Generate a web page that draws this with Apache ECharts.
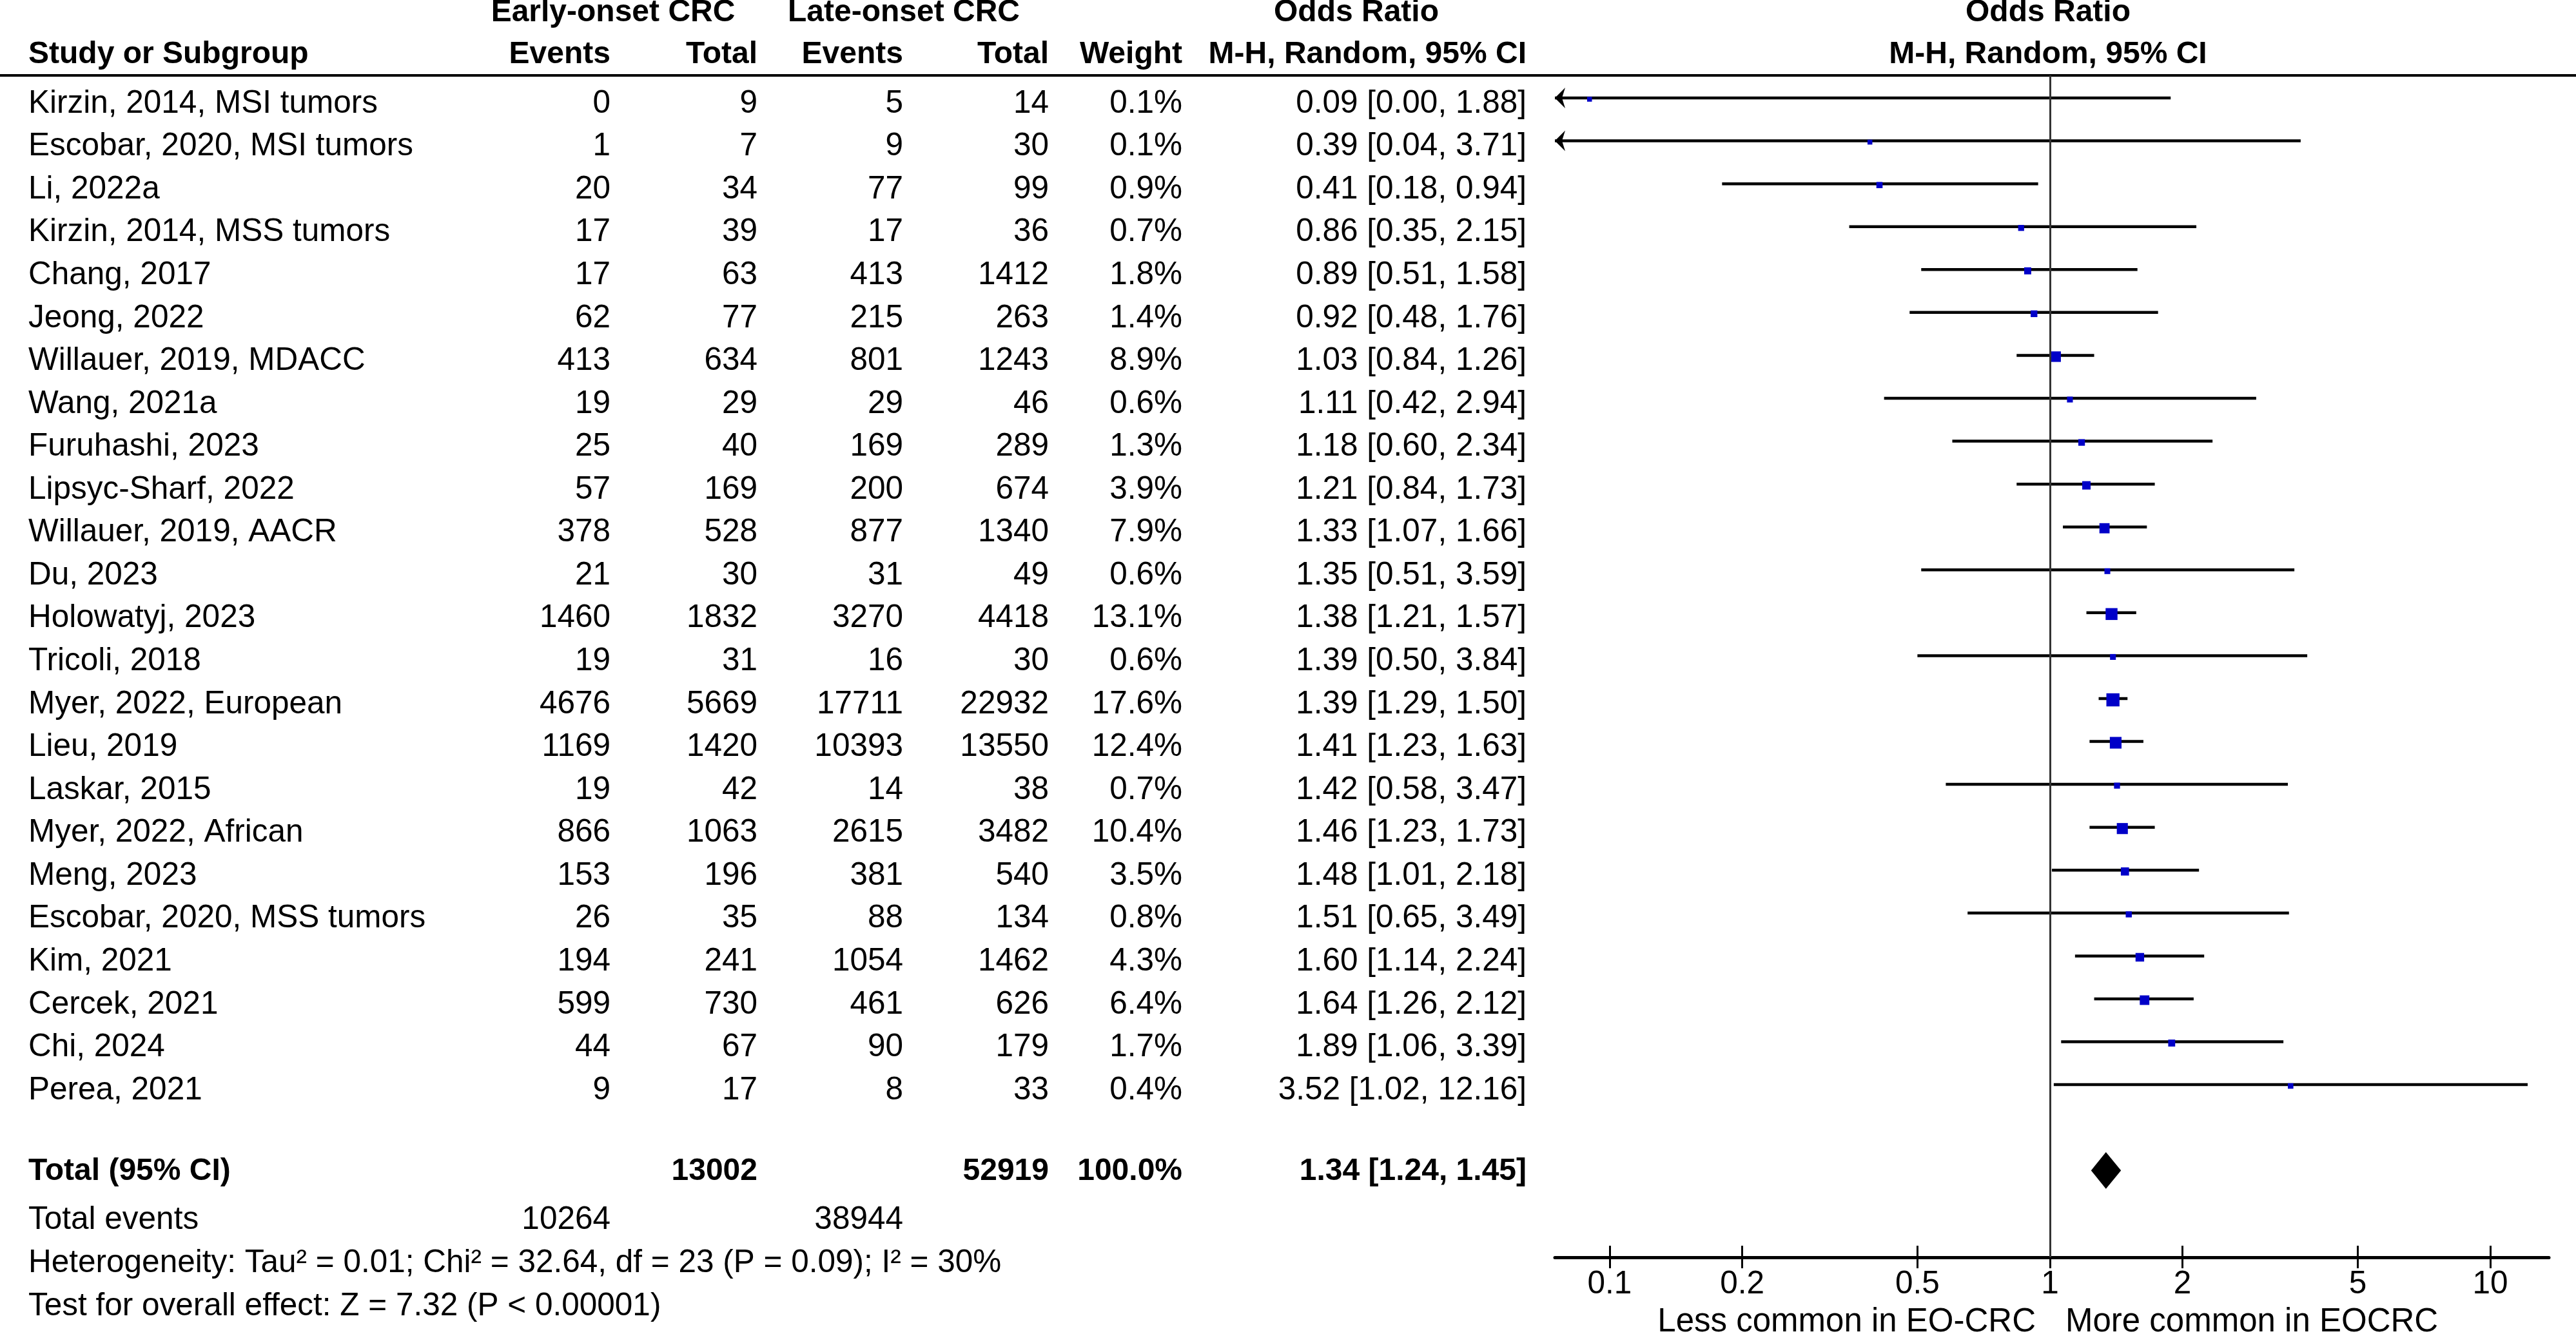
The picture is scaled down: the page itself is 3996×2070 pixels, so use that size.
<!DOCTYPE html>
<html>
<head>
<meta charset="utf-8">
<script src="https://cdn.jsdelivr.net/npm/echarts@6/dist/echarts.min.js"></script>
<style>
html, body { margin: 0; padding: 0; background: #fff; }
#chart { width: 3996px; height: 2070px; }
</style>
</head>
<body>
<div id="chart"></div>
<script>
// ---------------- DATA ----------------
const studies = [
  'Kirzin, 2014, MSI tumors', 'Escobar, 2020, MSI tumors', 'Li, 2022a', 'Kirzin, 2014, MSS tumors',
  'Chang, 2017', 'Jeong, 2022', 'Willauer, 2019, MDACC', 'Wang, 2021a', 'Furuhashi, 2023',
  'Lipsyc-Sharf, 2022', 'Willauer, 2019, AACR', 'Du, 2023', 'Holowatyj, 2023', 'Tricoli, 2018',
  'Myer, 2022, European', 'Lieu, 2019', 'Laskar, 2015', 'Myer, 2022, African', 'Meng, 2023',
  'Escobar, 2020, MSS tumors', 'Kim, 2021', 'Cercek, 2021', 'Chi, 2024', 'Perea, 2021'
];
const eoEvents = [0, 1, 20, 17, 17, 62, 413, 19, 25, 57, 378, 21, 1460, 19, 4676, 1169, 19, 866, 153, 26, 194, 599, 44, 9];
const eoTotal  = [9, 7, 34, 39, 63, 77, 634, 29, 40, 169, 528, 30, 1832, 31, 5669, 1420, 42, 1063, 196, 35, 241, 730, 67, 17];
const loEvents = [5, 9, 77, 17, 413, 215, 801, 29, 169, 200, 877, 31, 3270, 16, 17711, 10393, 14, 2615, 381, 88, 1054, 461, 90, 8];
const loTotal  = [14, 30, 99, 36, 1412, 263, 1243, 46, 289, 674, 1340, 49, 4418, 30, 22932, 13550, 38, 3482, 540, 134, 1462, 626, 179, 33];
const weights  = [0.1, 0.1, 0.9, 0.7, 1.8, 1.4, 8.9, 0.6, 1.3, 3.9, 7.9, 0.6, 13.1, 0.6, 17.6, 12.4, 0.7, 10.4, 3.5, 0.8, 4.3, 6.4, 1.7, 0.4];
const oddsRatio = [0.09, 0.39, 0.41, 0.86, 0.89, 0.92, 1.03, 1.11, 1.18, 1.21, 1.33, 1.35, 1.38, 1.39, 1.39, 1.41, 1.42, 1.46, 1.48, 1.51, 1.60, 1.64, 1.89, 3.52];
const ciLow    = [0.00, 0.04, 0.18, 0.35, 0.51, 0.48, 0.84, 0.42, 0.60, 0.84, 1.07, 0.51, 1.21, 0.50, 1.29, 1.23, 0.58, 1.23, 1.01, 0.65, 1.14, 1.26, 1.06, 1.02];
const ciHigh   = [1.88, 3.71, 0.94, 2.15, 1.58, 1.76, 1.26, 2.94, 2.34, 1.73, 1.66, 3.59, 1.57, 3.84, 1.50, 1.63, 3.47, 1.73, 2.18, 3.49, 2.24, 2.12, 3.39, 12.16];

const pooledOR = [1.34, 1.24, 1.45];          // estimate, lower, upper
const groupTotals = [13002, 52919];           // early-onset, late-onset
const groupEvents = [10264, 38944];
const totalWeight = 100.0;

const xTicks = [0.1, 0.2, 0.5, 1, 2, 5, 10];
const xTickLabels = ['0.1', '0.2', '0.5', '1', '2', '5', '10'];
const xCaptions = ['Less common in EO-CRC', 'More common in EOCRC'];

const headerGroups = ['Early-onset CRC', 'Late-onset CRC', 'Odds Ratio', 'Odds Ratio'];
const headerCols = ['Study or Subgroup', 'Events', 'Total', 'Events', 'Total', 'Weight', 'M-H, Random, 95% CI', 'M-H, Random, 95% CI'];
const footerLabels = ['Total (95% CI)', 'Total events'];
const heterogeneityText = 'Heterogeneity: Tau\u00B2 = 0.01; Chi\u00B2 = 32.64, df = 23 (P = 0.09); I\u00B2 = 30%';
const overallEffectText = 'Test for overall effect: Z = 7.32 (P < 0.00001)';

// ---------------- LAYOUT / STYLE ----------------
const FONT = '"Liberation Sans", Arial, Helvetica, sans-serif';
const LAY = {
  plotLeft: 2412, plotRight: 3954, plotTop: 117, axisY: 1951,
  row0: 152, pitch: 66.57,
  xMin: 0.07509, xMax: 13.59,
  textDy: 9,
  colName: 44, colE1: 947, colN1: 1175, colE2: 1401, colN2: 1627, colW: 1834, colCI: 2368,
  grpE: 951, grpL: 1402, grpOR: 2104,
  rowHead1: -2.118, rowHead2: -1.149,
  rowTotal: 24.89, rowEvents: 26.02, rowHet: 27.03, rowTest: 28.04, rowCaption: 28.40,
  fsReg: 49.5, fsBold: 48, fsCap: 51,
  sqBase: 6.5, sqScale: 3.3
};
const yMin = (LAY.plotTop - LAY.row0) / LAY.pitch;
const yMax = (LAY.axisY - LAY.row0) / LAY.pitch;
const xMinLog = Math.log10(LAY.xMin);
const xMaxLog = Math.log10(LAY.xMax);
const tickLogs = xTicks.map(v => Math.log10(v));

function txt(text, x, y, align, bold, size) {
  return {
    type: 'text',
    silent: true,
    style: {
      text: text, x: x, y: y, align: align, verticalAlign: 'middle',
      fill: '#000', fontFamily: FONT,
      fontWeight: bold ? 'bold' : 'normal',
      fontSize: size || (bold ? LAY.fsBold : LAY.fsReg)
    }
  };
}
function fmt2(v) { return v.toFixed(2); }

const chart = echarts.init(document.getElementById('chart'), null, { renderer: 'canvas' });

const option = {
  backgroundColor: '#fff',
  animation: false,
  grid: {
    left: LAY.plotLeft, top: LAY.plotTop,
    width: LAY.plotRight - LAY.plotLeft, height: LAY.axisY - LAY.plotTop,
    containLabel: false, outerBoundsMode: 'none'
  },
  xAxis: [
    {
      type: 'value', min: xMinLog, max: xMaxLog, position: 'bottom',
      axisLine: { show: true, onZero: false, lineStyle: { color: '#000', width: 5 } },
      axisTick: { show: true, customValues: tickLogs, length: 17, lineStyle: { color: '#000', width: 3 } },
      axisLabel: {
        show: true, customValues: tickLogs, margin: 17,
        color: '#000', fontSize: LAY.fsReg, fontFamily: FONT,
        formatter: function (v) {
          let best = 0;
          tickLogs.forEach((t, k) => { if (Math.abs(t - v) < Math.abs(tickLogs[best] - v)) best = k; });
          return xTickLabels[best];
        }
      },
      splitLine: { show: false }
    },
    {
      type: 'value', min: xMinLog, max: xMaxLog, position: 'bottom',
      axisLine: { show: false, onZero: false },
      axisTick: { show: true, inside: true, customValues: tickLogs, length: 18, lineStyle: { color: '#000', width: 3 } },
      axisLabel: { show: false },
      splitLine: { show: false }
    }
  ],
  yAxis: { type: 'value', inverse: true, min: yMin, max: yMax, show: false },
  series: [
    // confidence intervals + study squares
    {
      type: 'custom',
      name: 'studies',
      xAxisIndex: 0,
      clip: false,
      silent: true,
      encode: { x: 0, y: 1 },
      data: studies.map((s, i) => [Math.log10(oddsRatio[i]), i, ciLow[i], ciHigh[i], weights[i]]),
      renderItem: function (params, api) {
        const r = api.value(1);
        const y = api.coord([0, r])[1];
        const loRaw = api.value(2), hiRaw = api.value(3);
        const loLog = loRaw > 0 ? Math.log10(loRaw) : -Infinity;
        const clipped = loLog < xMinLog;
        const x0 = clipped ? api.coord([xMinLog, r])[0] : api.coord([loLog, r])[0];
        const x1 = api.coord([Math.min(Math.log10(hiRaw), xMaxLog), r])[0];
        const xc = api.coord([api.value(0), r])[0];
        const s = LAY.sqBase + LAY.sqScale * Math.sqrt(api.value(4));
        const children = [
          { type: 'line', shape: { x1: x0, y1: y, x2: x1, y2: y }, style: { stroke: '#000', lineWidth: 4.5 } }
        ];
        if (clipped) {
          children.push({ type: 'polygon', shape: { points: [[x0, y], [x0 + 16, y - 16], [x0 + 11, y], [x0 + 16, y + 16]] }, style: { fill: '#000' } });
        }
        children.push({ type: 'rect', shape: { x: xc - s / 2, y: y + 2 - s / 2, width: s, height: s }, style: { fill: '#0000c8' } });
        return { type: 'group', children: children };
      },
      markLine: {
        silent: true, symbol: 'none', animation: false,
        label: { show: false },
        lineStyle: { color: '#333', width: 3, type: 'solid' },
        data: [{ xAxis: 0 }]
      },
      z: 3
    },
    // pooled diamond
    {
      type: 'custom',
      name: 'pooled',
      clip: false,
      silent: true,
      encode: { x: 0, y: 1 },
      data: [[Math.log10(pooledOR[0]), studies.length + 1, Math.log10(pooledOR[1]), Math.log10(pooledOR[2])]],
      renderItem: function (params, api) {
        const r = api.value(1);
        const c = api.coord([api.value(0), r]);
        const lo = api.coord([api.value(2), r])[0];
        const hi = api.coord([api.value(3), r])[0];
        const h = 28.5;
        return {
          type: 'polygon',
          shape: { points: [[lo, c[1]], [c[0], c[1] - h], [hi, c[1]], [c[0], c[1] + h]] },
          style: { fill: '#000' }
        };
      },
      z: 4
    },
    // table rows
    {
      type: 'custom',
      name: 'table',
      clip: false,
      silent: true,
      encode: { x: 0, y: 1 },
      data: studies.map((s, i) => [0, i]),
      renderItem: function (params, api) {
        const i = params.dataIndex;
        const y = api.coord([0, api.value(1)])[1] + LAY.textDy;
        const ci = fmt2(oddsRatio[i]) + ' [' + fmt2(ciLow[i]) + ', ' + fmt2(ciHigh[i]) + ']';
        return {
          type: 'group',
          children: [
            txt(studies[i], LAY.colName, y, 'left'),
            txt(String(eoEvents[i]), LAY.colE1, y, 'right'),
            txt(String(eoTotal[i]), LAY.colN1, y, 'right'),
            txt(String(loEvents[i]), LAY.colE2, y, 'right'),
            txt(String(loTotal[i]), LAY.colN2, y, 'right'),
            txt(weights[i].toFixed(1) + '%', LAY.colW, y, 'right'),
            txt(ci, LAY.colCI, y, 'right')
          ]
        };
      }
    },
    // headers, footers, captions
    {
      type: 'custom',
      name: 'frame',
      clip: false,
      silent: true,
      encode: { x: 0, y: 1 },
      data: [[0, 0]],
      renderItem: function (params, api) {
        const yOf = r => api.coord([0, r])[1];
        const xOne = api.coord([0, 0])[0];
        const h1 = yOf(LAY.rowHead1) + LAY.textDy;
        const h2 = yOf(LAY.rowHead2) + LAY.textDy;
        const yLine = yOf(yMin);
        const yT = yOf(LAY.rowTotal) + LAY.textDy;
        const yE = yOf(LAY.rowEvents) + LAY.textDy;
        const yH = yOf(LAY.rowHet) + LAY.textDy;
        const yZ = yOf(LAY.rowTest) + LAY.textDy;
        const yC = yOf(LAY.rowCaption) + LAY.textDy;
        const pooledTxt = fmt2(pooledOR[0]) + ' [' + fmt2(pooledOR[1]) + ', ' + fmt2(pooledOR[2]) + ']';
        return {
          type: 'group',
          children: [
            { type: 'line', shape: { x1: 0, y1: yLine, x2: api.getWidth(), y2: yLine }, style: { stroke: '#000', lineWidth: 4 } },
            txt(headerGroups[0], LAY.grpE, h1, 'center', true),
            txt(headerGroups[1], LAY.grpL, h1, 'center', true),
            txt(headerGroups[2], LAY.grpOR, h1, 'center', true),
            txt(headerGroups[3], xOne - 3, h1, 'center', true),
            txt(headerCols[0], LAY.colName, h2, 'left', true),
            txt(headerCols[1], LAY.colE1, h2, 'right', true),
            txt(headerCols[2], LAY.colN1, h2, 'right', true),
            txt(headerCols[3], LAY.colE2, h2, 'right', true),
            txt(headerCols[4], LAY.colN2, h2, 'right', true),
            txt(headerCols[5], LAY.colW, h2, 'right', true),
            txt(headerCols[6], LAY.colCI, h2, 'right', true),
            txt(headerCols[7], xOne - 3, h2, 'center', true),
            txt(footerLabels[0], LAY.colName, yT, 'left', true),
            txt(String(groupTotals[0]), LAY.colN1, yT, 'right', true),
            txt(String(groupTotals[1]), LAY.colN2, yT, 'right', true),
            txt(totalWeight.toFixed(1) + '%', LAY.colW, yT, 'right', true),
            txt(pooledTxt, LAY.colCI, yT, 'right', true),
            txt(footerLabels[1], LAY.colName, yE, 'left'),
            txt(String(groupEvents[0]), LAY.colE1, yE, 'right'),
            txt(String(groupEvents[1]), LAY.colE2, yE, 'right'),
            txt(heterogeneityText, LAY.colName, yH, 'left'),
            txt(overallEffectText, LAY.colName, yZ, 'left'),
            txt(xCaptions[0], xOne - 22, yC, 'right', false, LAY.fsCap),
            txt(xCaptions[1], xOne + 24, yC, 'left', false, LAY.fsCap)
          ]
        };
      }
    }
  ]
};

chart.setOption(option);
</script>
</body>
</html>
